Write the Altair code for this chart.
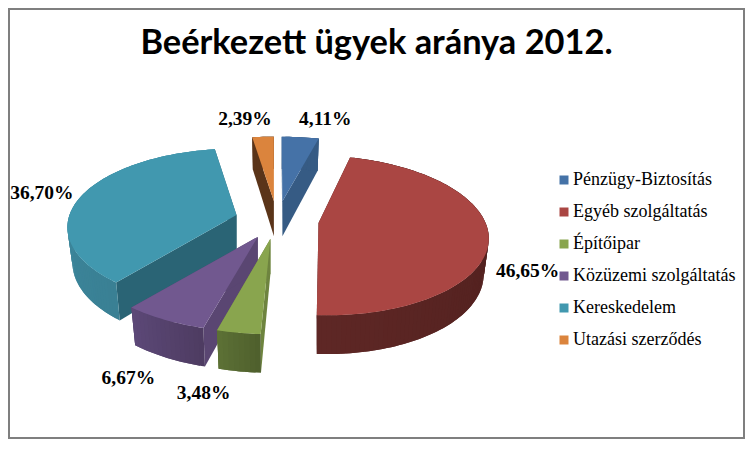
import math
import altair as alt

TITLE = "Beérkezett ügyek aránya 2012."
names = ["Pénzügy-Biztosítás", "Egyéb szolgáltatás", "Építőipar",
         "Közüzemi szolgáltatás", "Kereskedelem", "Utazási szerződés"]
values = [4.11, 46.65, 3.48, 6.67, 36.70, 2.39]
tops = ["#4572A7", "#AA4643", "#89A54E", "#71588F", "#4198AF", "#DB843D"]
radial_walls = ["#365B84", "#4A1C1A", "#6E843F", "#5A4672", "#2A6475", "#5A3419"]
outer_start = ["#365B84", "#451A18", "#4F602D", "#4E3C62", "#3A8094", "#5A3419"]
outer_end = ["#365B84", "#5E2725", "#5C7035", "#5C4877", "#3F90A6", "#5A3419"]
paint_order = [0, 5, 4, 1, 3, 2]
label_nudge = [(25, -18), (39, 36), (-35, 60), (-36, 58), (-40, -2), (-18, -18)]
x_gain = [1, 1, 1.03, 1.05, 1, 1]

# layout of the tilted, exploded pie (page pixels)
CX, CY = 277, 220
A, B, P = 167, 77.5, 0.157
EX, EY = 42, 19
DEPTH = 35
SHRINK = 0.97
OFF = 8


def hex_rgb(c):
    return [int(c[i:i + 2], 16) for i in (1, 3, 5)]


def mix(c1, c2, t):
    a, b = hex_rgb(c1), hex_rgb(c2)
    return "#%02X%02X%02X" % tuple(round(x + (y - x) * t) for x, y in zip(a, b))


def rel(theta, ax, ay, gain=1):
    X, Y = math.sin(theta), math.cos(theta)
    s = 1 / (1 + P * Y)
    return (gain * A * X * s + max(ax, 0) * (s - 1), -B * Y * s + ay * (s - 1), s)


features, domain_extra = [], {}


def add(ring, key, colour):
    domain_extra.setdefault(key, colour)
    ring = ring + [ring[0]]
    features.append({"type": "Feature",
                     "geometry": {"type": "Polygon",
                                  "coordinates": [[[round(x, 2), round(y, 2)] for x, y in ring]]},
                     "properties": {"key": key}})


FRAME = "#7F7F7F"
L, T, R, Bm = 8, 8, 745, 439
for ring in ([(L, T), (R, T), (R, T + 2), (L, T + 2)], [(L, Bm - 2), (R, Bm - 2), (R, Bm), (L, Bm)],
             [(L, T), (L + 2, T), (L + 2, Bm), (L, Bm)], [(R - 2, T), (R, T), (R, Bm), (R - 2, Bm)]):
    add(ring, FRAME, FRAME)

slices, acc = [], 0.0
for v in values:
    t0 = acc / 100 * 2 * math.pi
    acc += v
    t1 = acc / 100 * 2 * math.pi
    slices.append((t0, t1, (t0 + t1) / 2))

for i in paint_order:
    t0, t1, m = slices[i]
    ax = EX * math.sin(m)
    ay = -EY * math.cos(m)
    apx, apy = CX + ax, CY + ay
    n = max(4, int((t1 - t0) * 40))
    ts = [t0 + (t1 - t0) * k / n for k in range(n + 1)]
    upper, lower = [], []
    for th in ts:
        dx, dy, s = rel(th, ax, ay, x_gain[i])
        upper.append((apx + dx, apy + dy))
        lower.append((apx + dx * SHRINK, apy + dy * SHRINK + DEPTH * s))
    ap_low = (apx, apy + DEPTH)
    add([(apx, apy), upper[0], lower[0], ap_low], radial_walls[i], radial_walls[i])
    add([(apx, apy), upper[-1], lower[-1], ap_low], radial_walls[i], radial_walls[i])
    for k in range(n):
        c = mix(outer_start[i], outer_end[i], k / max(1, n - 1))
        e = min(k + 2, n)
        add([upper[k]] + upper[k + 1:e + 1] + lower[k + 1:e + 1][::-1] + [lower[k]], c, c)
    add([(apx, apy)] + upper, names[i], tops[i])

label_rows = []
for i, (t0, t1, m) in enumerate(slices):
    ax = EX * math.sin(m)
    ay = -EY * math.cos(m)
    dx, dy, s = rel(m, ax, ay, x_gain[i])
    label_rows.append({"lon": CX + ax + dx + label_nudge[i][0],
                       "lat": CY + ay + dy + label_nudge[i][1],
                       "txt": f"{values[i]:.2f}%".replace(".", ",")})

proj = dict(type="identity", scale=1, translate=[-OFF, -OFF], reflectY=False)

extra = {k: c for k, c in domain_extra.items() if k not in names}
shapes = alt.Chart(alt.InlineData(values=features, format=alt.DataFormat(type="json"))).mark_geoshape(
    stroke=None
).encode(
    color=alt.Color("properties.key:N",
                    scale=alt.Scale(domain=names + list(extra), range=tops + list(extra.values())),
                    legend=alt.Legend(title=None, values=names, orient="none", legendX=547, legendY=163,
                                      symbolType="square", symbolSize=81, symbolStrokeWidth=0,
                                      labelFont="Liberation Serif", labelFontSize=18, labelColor="#000000",
                                      labelOffset=0, rowPadding=14, labelLimit=300, columns=1))
).project(**proj)

labels = alt.Chart(alt.Data(values=label_rows)).mark_text(
    font="Liberation Serif", fontSize=19.5, fontWeight="bold", color="#000000"
).encode(longitude="lon:Q", latitude="lat:Q", text="txt:N").project(**proj)

chart = alt.layer(shapes, labels).properties(
    width=737, height=431,
    padding=0,
    autosize=alt.AutoSizeParams(type="none"),
    title=alt.TitleParams(TITLE, anchor="middle", orient="top", offset=-53,
                          font="Lato", fontSize=34.4, fontWeight="bold", color="#000000"),
).configure_view(stroke=None)

chart.save("out.html", embed_options={"renderer": "svg", "actions": False})
